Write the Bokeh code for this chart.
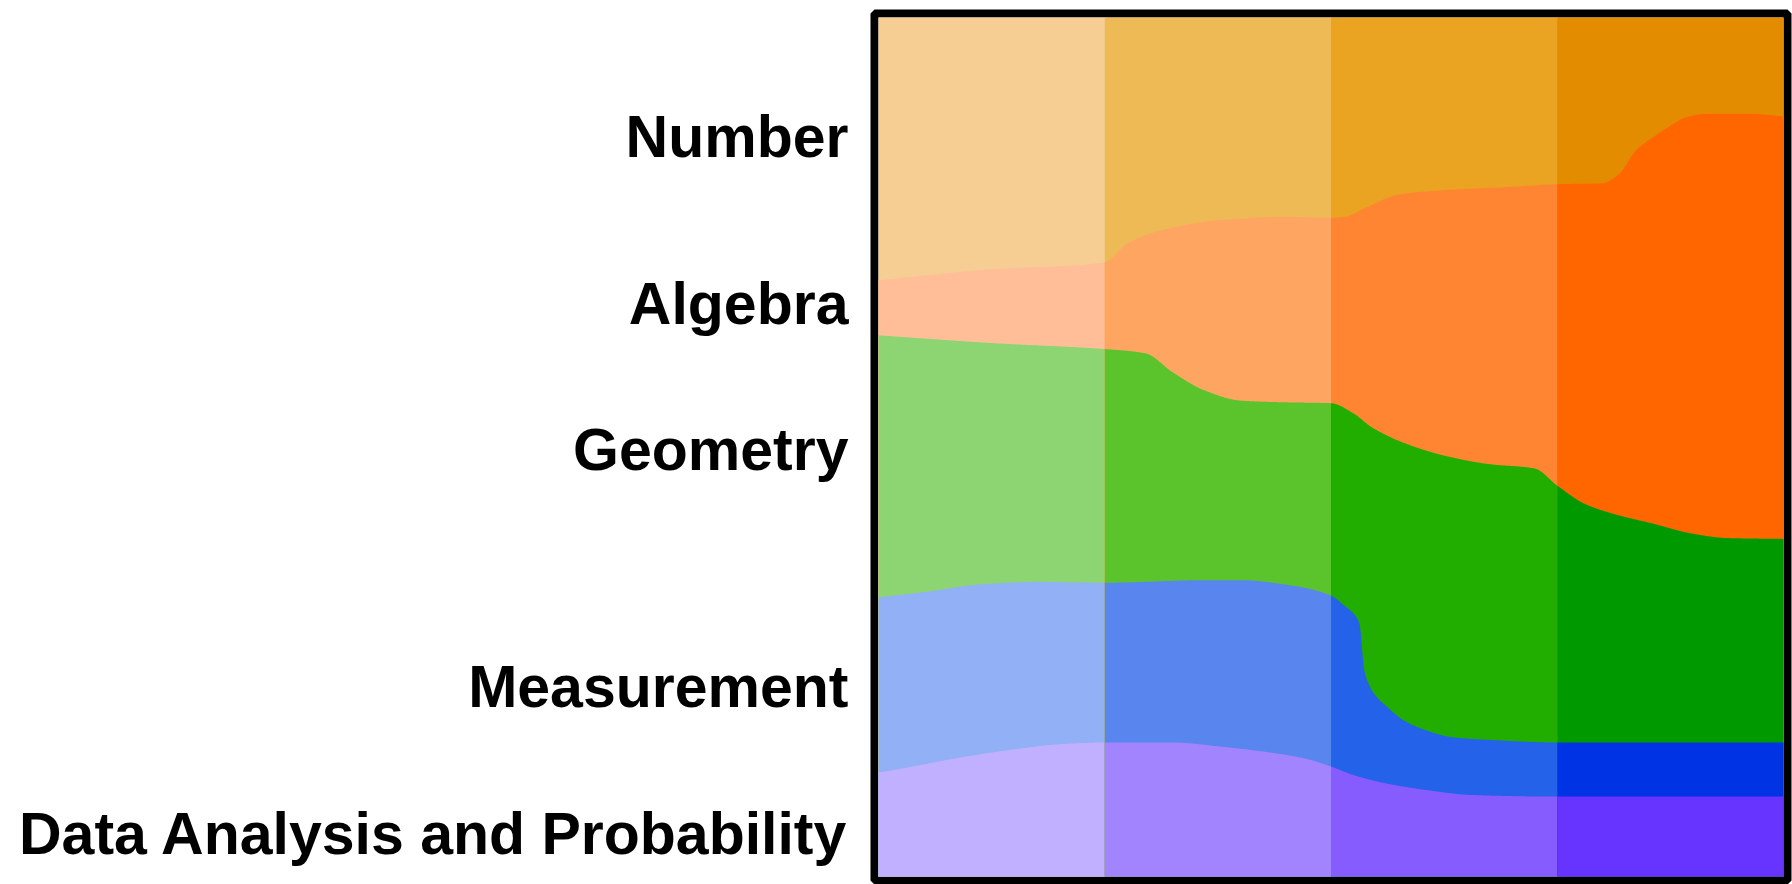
import numpy as np
from bokeh.plotting import figure
from bokeh.models import Range1d, LinearAxis, FixedTicker
from bokeh.embed import file_html
from bokeh.resources import INLINE

# ---------------- data ----------------
categories = ["Number", "Algebra", "Geometry", "Measurement", "Data Analysis and Probability"]
grade_bands = ["Pre-K-2", "3-5", "6-8", "9-12"]   # four columns (not labelled in the chart)

# Boundaries between stacked strands, cumulative % measured from the top,
# sampled at positions along the grade axis (0..4, one unit per grade band).
number_algebra_x = [0, 0.5, 1.0, 1.1, 1.26, 1.5, 1.8, 2.0, 2.06, 2.15, 2.3, 2.5, 2.8, 3.0,
                    3.2, 3.27, 3.35, 3.42, 3.5, 3.57, 3.66, 3.85, 4.0]
number_algebra = [30.6, 29.3, 28.5, 26.3, 24.7, 23.6, 23.2, 23.3, 23.2, 22.2, 20.6, 20.1, 19.7, 19.4,
                  19.3, 18.3, 15.4, 14.0, 12.6, 11.6, 11.2, 11.2, 11.5]

algebra_geometry_x = [0, 0.5, 1.0, 1.18, 1.3, 1.44, 1.6, 1.8, 2.0, 2.1, 2.18, 2.32, 2.5, 2.7,
                      2.9, 3.0, 3.12, 3.25, 3.42, 3.6, 3.75, 4.0]
algebra_geometry = [37.0, 37.9, 38.6, 39.1, 41.3, 43.4, 44.6, 44.8, 44.9, 46.1, 47.7, 49.5, 51.0, 52.0,
                    52.5, 54.5, 56.6, 57.8, 58.9, 60.1, 60.6, 60.7]

geometry_measurement_x = [0, 0.2, 0.45, 0.7, 1.0, 1.45, 1.6, 1.82, 2.0, 2.06, 2.1, 2.126, 2.147,
                          2.165, 2.19, 2.25, 2.32, 2.4, 2.54, 2.7, 3.0, 4.0]
geometry_measurement = [67.5, 66.9, 66.0, 65.7, 65.8, 65.5, 65.5, 66.1, 67.3, 68.5, 69.4, 70.6, 76.0,
                        77.5, 78.7, 80.3, 81.8, 82.8, 83.8, 84.1, 84.4, 84.4]

measurement_data_x = [0, 0.15, 0.35, 0.6, 0.8, 1.0, 1.3, 1.52, 1.74, 1.89, 2.0, 2.1, 2.25,
                      2.44, 2.61, 3.0, 4.0]
measurement_data = [87.9, 87.2, 86.2, 85.2, 84.6, 84.4, 84.4, 84.9, 85.6, 86.3, 87.2, 88.2, 89.2,
                    90.0, 90.5, 90.7, 90.7]

# colours per strand, one per grade band (lightest to darkest)
number_colors = ["#F6CE94", "#EEBA56", "#EAA422", "#E48C00"]
algebra_colors = ["#FFBE98", "#FFA562", "#FF8533", "#FF6600"]
geometry_colors = ["#8CD572", "#5BC42C", "#21AE00", "#009900"]
measurement_colors = ["#91B0F5", "#5886EE", "#2462EA", "#0033E4"]
data_colors = ["#C1AFFF", "#A284FE", "#865CFF", "#6633FF"]

# label anchor positions (cumulative %, from top)
label_positions = [13.9, 33.4, 50.4, 77.9, 95.1]


# ---------------- smooth curve through the read points (monotone cubic) ----------------
def pchip(xk, yk, xq):
    xk = np.asarray(xk, float)
    yk = np.asarray(yk, float)
    h = np.diff(xk)
    d = np.diff(yk) / h
    n = len(xk)
    m = np.zeros(n)
    m[0], m[-1] = d[0], d[-1]
    for i in range(1, n - 1):
        if d[i - 1] * d[i] <= 0:
            m[i] = 0.0
        else:
            w1 = 2 * h[i] + h[i - 1]
            w2 = h[i] + 2 * h[i - 1]
            m[i] = (w1 + w2) / (w1 / d[i - 1] + w2 / d[i])
    xq = np.asarray(xq, float)
    idx = np.clip(np.searchsorted(xk, xq) - 1, 0, n - 2)
    t = (xq - xk[idx]) / h[idx]
    h00 = 2 * t**3 - 3 * t**2 + 1
    h10 = t**3 - 2 * t**2 + t
    h01 = -2 * t**3 + 3 * t**2
    h11 = t**3 - t**2
    return h00 * yk[idx] + h10 * h[idx] * m[idx] + h01 * yk[idx + 1] + h11 * h[idx] * m[idx + 1]


tops = [None,
        (number_algebra_x, number_algebra),
        (algebra_geometry_x, algebra_geometry),
        (geometry_measurement_x, geometry_measurement),
        (measurement_data_x, measurement_data)]
colors = [number_colors, algebra_colors, geometry_colors, measurement_colors, data_colors]

# ---------------- figure ----------------
ncol = len(grade_bands)
inner_w, inner_h = 905, 859            # pixel size of the coloured area
pad_px = 4                              # half of the frame line
dx = ncol * pad_px / inner_w
dy = 100 * pad_px / inner_h

p = figure(width=1792, height=884, output_backend="svg", toolbar_location=None,
           x_range=Range1d(-dx, ncol + dx), y_range=Range1d(100 + dy, -dy),
           x_axis_type=None, y_axis_type=None,
           min_border_left=874, min_border_right=5, min_border_top=13, min_border_bottom=4)
p.grid.visible = False
p.background_fill_color = "white"
p.border_fill_color = "white"
p.outline_line_color = "black"
p.outline_line_width = 8

for c in range(ncol):
    x_end = c + 1 + (0.004 if c < ncol - 1 else 0)
    xs = np.linspace(c, x_end, 400)
    for k in range(len(categories)):
        if tops[k] is None:
            y_top = np.zeros_like(xs)
        else:
            y_top = pchip(tops[k][0], tops[k][1], xs)
        y_bot = np.full_like(xs, 100.0)
        p.varea(x=xs, y1=y_top, y2=y_bot, fill_color=colors[k][c], fill_alpha=1.0)

axis = LinearAxis(ticker=FixedTicker(ticks=label_positions),
                  major_label_overrides={pos: name for pos, name in zip(label_positions, categories)},
                  axis_line_color=None, major_tick_line_color=None, minor_tick_line_color=None,
                  major_tick_out=0, major_tick_in=0,
                  major_label_standoff=26,
                  major_label_text_font="Liberation Sans",
                  major_label_text_font_style="bold",
                  major_label_text_font_size="59px",
                  major_label_text_color="black")
p.add_layout(axis, "left")

open("out.html", "w").write(file_html(p, INLINE))
